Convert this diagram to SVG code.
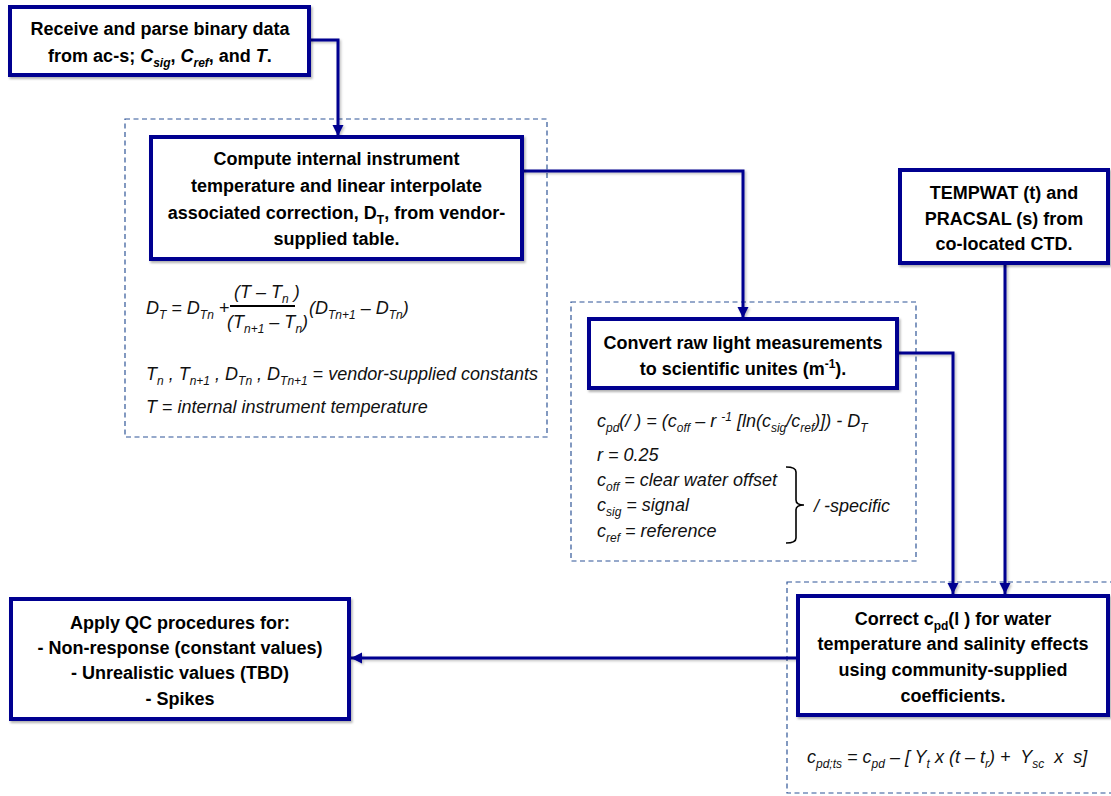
<svg xmlns="http://www.w3.org/2000/svg" width="1111" height="796" viewBox="0 0 1111 796">
<defs>
<filter id="sh" x="-5%" y="-5%" width="110%" height="120%">
<feDropShadow dx="1.5" dy="2" stdDeviation="1.2" flood-color="#000" flood-opacity="0.3"/>
</filter>
<filter id="shl" filterUnits="userSpaceOnUse" x="0" y="0" width="1111" height="796">
<feDropShadow dx="1.5" dy="1.5" stdDeviation="1" flood-color="#000" flood-opacity="0.25"/>
</filter>
<marker id="ah" markerUnits="userSpaceOnUse" markerWidth="12" markerHeight="12" viewBox="0 0 12 12" refX="11" refY="6" orient="auto">
<path d="M0,0.5 L11,6 L0,11.5 Z" fill="#000090"/>
</marker>
<style>
.box{fill:#fff;stroke:#000090;stroke-width:4;filter:url(#sh)}
.grp{fill:none;stroke:#2F5597;stroke-width:1.2;stroke-dasharray:5 3.5}
.bt{font-family:"Liberation Sans",Arial,sans-serif;font-weight:bold;font-size:18px;fill:#000;text-anchor:middle}
.it{font-family:"Liberation Sans",Arial,sans-serif;font-style:italic;font-size:18px;fill:#111}
.sub{font-size:12px}
.con{fill:none;stroke:#000090;stroke-width:3;filter:url(#shl)}
</style>
</defs>

<g id="groups">
<rect class="grp" x="125" y="119" width="422" height="318"/>
<rect class="grp" x="571" y="302" width="345" height="259"/>
<rect class="grp" x="787" y="582" width="330" height="211"/>
</g>

<g id="connectors">
<path class="con" d="M309,40 H338 V136" marker-end="url(#ah)"/>
<path class="con" d="M522,171 H743 V318" marker-end="url(#ah)"/>
<path class="con" d="M897,353 H953 V594" marker-end="url(#ah)"/>
<path class="con" d="M1005,263 V594" marker-end="url(#ah)"/>
<path class="con" d="M798,658 H351" marker-end="url(#ah)"/>
</g>

<g id="node-receive">
<rect class="box" x="10" y="7" width="299" height="68"/>
<text class="bt" x="160" y="34.5">Receive and parse binary data</text>
<text class="bt" x="160" y="61.5">from ac-s; <tspan font-style="italic">C</tspan><tspan class="sub" font-style="italic" dy="5">sig</tspan><tspan dy="-5">, </tspan><tspan font-style="italic">C</tspan><tspan class="sub" font-style="italic" dy="5">ref</tspan><tspan dy="-5">, and </tspan><tspan font-style="italic">T</tspan>.</text>
</g>

<g id="node-compute">
<rect class="box" x="151" y="137" width="371" height="122"/>
<text class="bt" x="336.5" y="164.5">Compute internal instrument</text>
<text class="bt" x="336.5" y="191.5">temperature and linear interpolate</text>
<text class="bt" x="336.5" y="218.5">associated correction, D<tspan class="sub" dy="5">T</tspan><tspan dy="-5">, from vendor-</tspan></text>
<text class="bt" x="336.5" y="244.5">supplied table.</text>
</g>

<g id="formula-compute">
<text class="it" x="146" y="314">D<tspan class="sub" dy="5">T</tspan><tspan dy="-5"> = D</tspan><tspan class="sub" dy="5">Tn</tspan><tspan dy="-5" font-style="normal"> +</tspan></text>
<text class="it" x="234" y="298">(T – T<tspan class="sub" dy="5">n</tspan><tspan dy="-5"> )</tspan></text>
<line x1="230" y1="306" x2="295" y2="306" stroke="#000" stroke-width="2.2"/>
<text class="it" x="227" y="328">(T<tspan class="sub" dy="5">n+1</tspan><tspan dy="-5"> – T</tspan><tspan class="sub" dy="5">n</tspan><tspan dy="-5">)</tspan></text>
<text class="it" x="309" y="314">(D<tspan class="sub" dy="5">Tn+1</tspan><tspan dy="-5"> – D</tspan><tspan class="sub" dy="5">Tn</tspan><tspan dy="-5">)</tspan></text>
<text class="it" x="146" y="380">T<tspan class="sub" dy="5">n</tspan><tspan dy="-5"> , T</tspan><tspan class="sub" dy="5">n+1</tspan><tspan dy="-5"> , D</tspan><tspan class="sub" dy="5">Tn</tspan><tspan dy="-5"> , D</tspan><tspan class="sub" dy="5">Tn+1</tspan><tspan dy="-5" font-style="normal"> = </tspan><tspan>vendor-supplied constants</tspan></text>
<text class="it" x="146" y="413">T <tspan font-style="normal">=</tspan> internal instrument temperature</text>
</g>

<g id="node-convert">
<rect class="box" x="589" y="319" width="308" height="69"/>
<text class="bt" x="743" y="348.5">Convert raw light measurements</text>
<text class="bt" x="743" y="374.5">to scientific unites (m<tspan class="sub" dy="-7">-1</tspan><tspan dy="7">).</tspan></text>
</g>

<g id="formula-convert">
<text class="it" x="597" y="427">c<tspan class="sub" dy="5">pd</tspan><tspan dy="-5">(/ ) = (c</tspan><tspan class="sub" dy="5">off</tspan><tspan dy="-5"> – r </tspan><tspan class="sub" dy="-6">-1</tspan><tspan dy="6"> [ln(c</tspan><tspan class="sub" dy="5">sig</tspan><tspan dy="-5">/c</tspan><tspan class="sub" dy="5">ref</tspan><tspan dy="-5">)]) - D</tspan><tspan class="sub" dy="5">T</tspan></text>
<text class="it" x="597" y="461">r = 0.25</text>
<text class="it" x="597" y="486">c<tspan class="sub" dy="5">off</tspan><tspan dy="-5"> = clear water offset</tspan></text>
<text class="it" x="597" y="511">c<tspan class="sub" dy="5">sig</tspan><tspan dy="-5"> = signal</tspan></text>
<text class="it" x="597" y="537">c<tspan class="sub" dy="5">ref</tspan><tspan dy="-5"> = reference</tspan></text>
<path d="M786,467 Q796,467 796,472 V500 Q796,505 804,505 Q796,505 796,510 V538 Q796,543 786,543" fill="none" stroke="#000" stroke-width="1.6"/>
<text class="it" x="814" y="512">/ -specific</text>
</g>

<g id="node-tempwat">
<rect class="box" x="900" y="170" width="208" height="93"/>
<text class="bt" x="1004" y="198.5">TEMPWAT (t) and</text>
<text class="bt" x="1004" y="224.5">PRACSAL (s) from</text>
<text class="bt" x="1004" y="249.5">co-located CTD.</text>
</g>

<g id="node-correct">
<rect class="box" x="798" y="596" width="310" height="119"/>
<text class="bt" x="953" y="624.5">Correct c<tspan class="sub" dy="5">pd</tspan><tspan dy="-5">(l ) for water</tspan></text>
<text class="bt" x="953" y="650">temperature and salinity effects</text>
<text class="bt" x="953" y="676">using community-supplied</text>
<text class="bt" x="953" y="701.5">coefficients.</text>
</g>

<g id="formula-correct">
<text class="it" x="807" y="763" xml:space="preserve">c<tspan class="sub" dy="5">pd;ts</tspan><tspan dy="-5"> = c</tspan><tspan class="sub" dy="5">pd</tspan><tspan dy="-5"> – [ Y</tspan><tspan class="sub" dy="5">t</tspan><tspan dy="-5"> x (t – t</tspan><tspan class="sub" dy="5">r</tspan><tspan dy="-5">) +  Y</tspan><tspan class="sub" dy="5">sc</tspan><tspan dy="-5">  x  s]</tspan></text>
</g>

<g id="node-qc">
<rect class="box" x="11" y="599" width="338" height="120"/>
<text class="bt" x="180" y="629">Apply QC procedures for:</text>
<text class="bt" x="180" y="654">- Non-response (constant values)</text>
<text class="bt" x="180" y="679">- Unrealistic values (TBD)</text>
<text class="bt" x="180" y="705">- Spikes</text>
</g>
</svg>
